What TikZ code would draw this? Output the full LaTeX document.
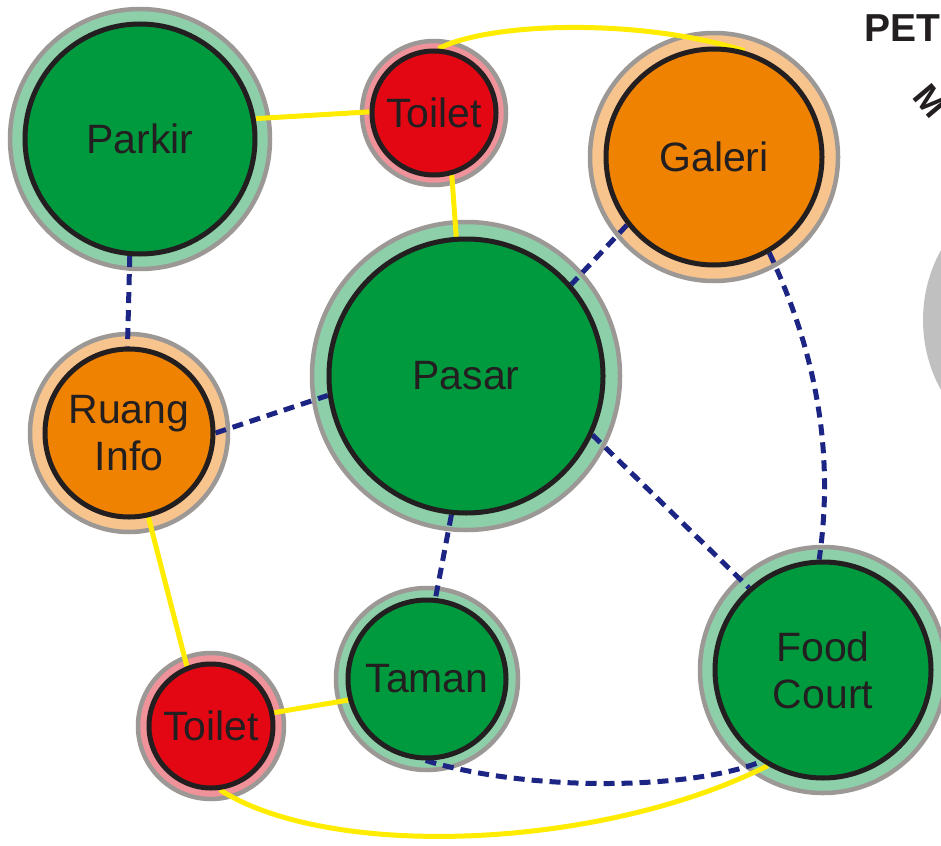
\documentclass[tikz,border=0pt]{standalone}
\usepackage{fontspec}
\setmainfont{Liberation Sans}

\definecolor{parkgreen}{HTML}{009A3E}
\definecolor{parkgreenring}{HTML}{8DCFA9}
\definecolor{hallorange}{HTML}{EF8200}
\definecolor{hallorangering}{HTML}{F8C48E}
\definecolor{wcred}{HTML}{E30613}
\definecolor{wcredring}{HTML}{F0929A}
\definecolor{rimgray}{HTML}{9C9896}
\definecolor{inkblack}{HTML}{231F20}
\definecolor{pathyellow}{HTML}{FFEC00}
\definecolor{pathnavy}{HTML}{1D2584}
\definecolor{bubblegray}{HTML}{C0C0C0}

\pgfdeclarelayer{rings}
\pgfdeclarelayer{links}
\pgfsetlayers{rings,links,main}

\tikzset{
  spot/.style={circle, draw=inkblack, line width=5pt, inner sep=0pt,
    text=inkblack, align=center, font=\fontsize{41}{47}\selectfont},
  ring/.style={draw=rimgray, line width=4.5pt},
  walkway/.style={pathyellow, line width=5pt},
  access/.style={pathnavy, line width=5pt, dash pattern=on 11pt off 7pt},
  title/.style={text=inkblack, font=\bfseries\fontsize{39}{39}\selectfont},
}

% name, x, y, inner diameter, outer radius, fill, ring fill, label
\newcommand{\placespot}[8]{%
  \node[spot, fill=#6, minimum size=#4] (#1) at (#2,#3) {#8};
  \begin{pgfonlayer}{rings}
    \draw[ring, fill=#7] (#1.center) circle[radius=#5];
  \end{pgfonlayer}
}

\begin{document}
\begin{tikzpicture}[x=1pt,y=-1pt]
\useasboundingbox (0,0) rectangle (941,845);
\clip (0,0) rectangle (941,845);

% grey bubble at the right edge and the heading
\begin{pgfonlayer}{rings}
  \fill[bubblegray] (1068,320) circle[radius=145pt];
\end{pgfonlayer}
\node[title, anchor=base west] (heading) at (861,42) {PET};
\node[title, font=\bfseries\fontsize{36}{36}\selectfont, rotate=-50] (headingarc) at (931,101) {M};

% places
\placespot{parkir}{140}{139}{230pt}{130pt}{parkgreen}{parkgreenring}{Parkir}
\placespot{toiletA}{434}{113}{124pt}{72pt}{wcred}{wcredring}{Toilet}
\placespot{galeri}{714}{157}{216pt}{124pt}{hallorange}{hallorangering}{Galeri}
\placespot{pasar}{466}{376}{274pt}{154pt}{parkgreen}{parkgreenring}{Pasar}
\placespot{info}{129}{433}{168pt}{99pt}{hallorange}{hallorangering}{Ruang\\Info}
\placespot{taman}{427}{679}{158pt}{91pt}{parkgreen}{parkgreenring}{Taman}
\placespot{toiletB}{211}{726}{124pt}{73pt}{wcred}{wcredring}{Toilet}
\placespot{food}{823}{670}{216pt}{123pt}{parkgreen}{parkgreenring}{Food\\Court}

% connections
\begin{pgfonlayer}{links}
  % direct walkways
  \draw[walkway] (parkir.10.6) -- (toiletA.179);
  \draw[walkway] (toiletA.-74.5) -- (pasar.94);
  \draw[walkway] (toiletA.86.5) .. controls (490,22) and (640,18) .. (galeri.74);
  \draw[walkway] (info.-77.4) -- (toiletB.112);
  \draw[walkway] (toiletB.12) -- (taman.-165);
  \draw[walkway] (toiletB.-82) .. controls (330,860) and (600,850) .. (food.-120.6);
  % indirect access
  \draw[access] (parkir.-95) -- (info.91);
  \draw[access] (info.-0.7) -- (pasar.-172);
  \draw[access] (galeri.-142) -- (pasar.41);
  \draw[access] (pasar.-25) -- (food.132.5);
  \draw[access] (pasar.-96.4) -- (taman.84);
  \draw[access] (galeri.-60) .. controls (815,350) and (835,450) .. (food.92);
  \draw[access] (taman.-91) .. controls (530,792) and (690,790) .. (food.-124);
\end{pgfonlayer}
\end{tikzpicture}
\end{document}
